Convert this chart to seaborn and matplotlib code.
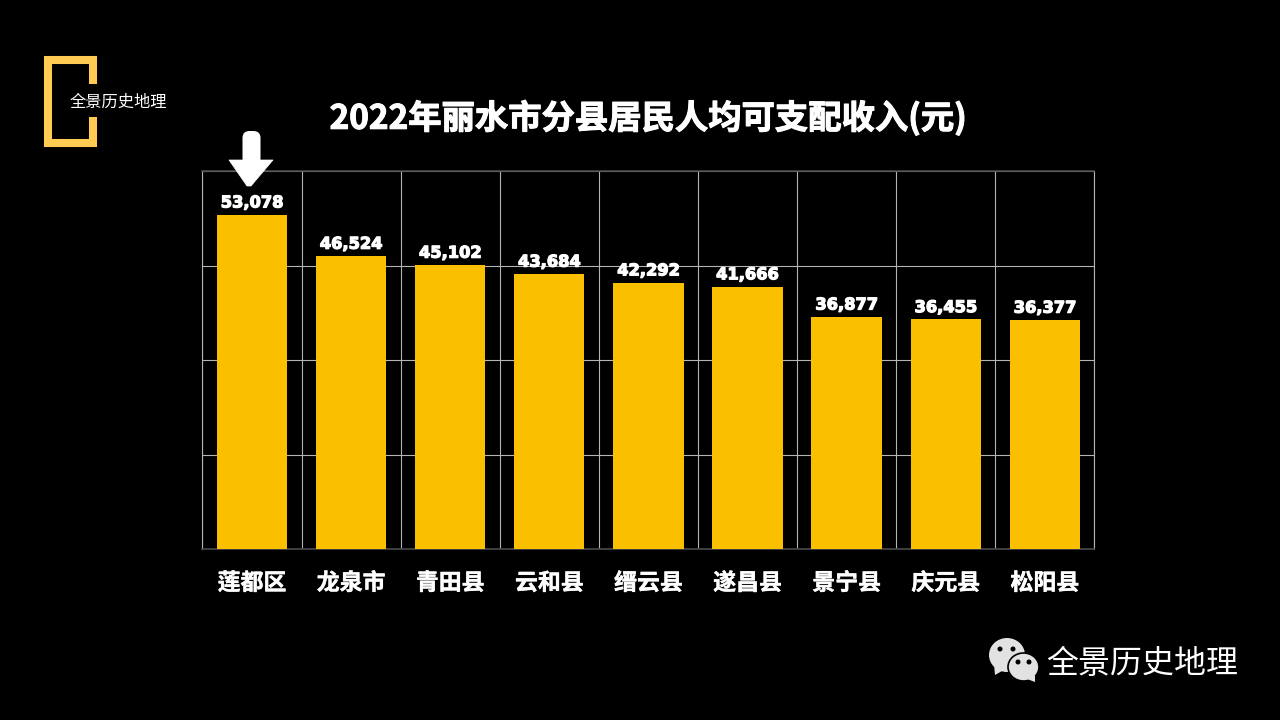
import numpy as np
import pandas as pd
import matplotlib
matplotlib.use("Agg")
import matplotlib.pyplot as plt
import matplotlib.patheffects as pe
from matplotlib.lines import Line2D
from matplotlib.patches import Ellipse, Polygon, FancyBboxPatch
from matplotlib.transforms import Affine2D
import seaborn as sns

# data
counties = ["莲都区", "龙泉市", "青田县", "云和县", "缙云县", "遂昌县", "景宁县", "庆元县", "松阳县"]
income = [53078, 46524, 45102, 43684, 42292, 41666, 36877, 36455, 36377]
y_ticks = [0, 15000, 30000, 45000, 60000]

title = "2022年丽水市分县居民人均可支配收入(元)"
brand = "全景历史地理"

BG = "#000000"
BAR = "#FAC000"
LOGO = "#FFCB52"

sns.set_theme(style="dark")
plt.rcParams["font.family"] = ["Noto Sans CJK SC", "DejaVu Sans"]

fig = plt.figure(figsize=(12.8, 7.2), dpi=100, facecolor=BG)
ax = fig.add_axes([202.4 / 1280, 1 - 549 / 720, (1094.4 - 202.4) / 1280, (549 - 171) / 720])
ax.set_facecolor(BG)

df = pd.DataFrame({"county": counties, "income": income})
sns.barplot(data=df, x="county", y="income", color=BAR, saturation=1, width=0.71,
            edgecolor="none", linewidth=0, ax=ax, zorder=3)

ax.set_xlim(-0.5, len(counties) - 0.5)
ax.set_ylim(y_ticks[0], y_ticks[-1])
ax.set_xlabel("")
ax.set_ylabel("")
ax.set_yticks(y_ticks)
ax.set_yticklabels([])
ax.set_xticks(np.arange(len(counties) + 1) - 0.5, minor=True)
ax.tick_params(axis="both", which="both", length=0)
ax.tick_params(axis="x", which="major", pad=16.5, colors="white", labelsize=16.5)
for lab in ax.get_xticklabels():
    lab.set_fontweight("bold")
    lab.set_path_effects([pe.withStroke(linewidth=0.3, foreground="white")])

ax.set_axisbelow(True)
ax.grid(True, axis="y", which="major", color="#B4B4B4", lw=0.8)
ax.grid(True, axis="x", which="minor", color="#B4B4B4", lw=0.8)
ax.grid(False, axis="x", which="major")

for side in ["top", "bottom"]:
    ax.spines[side].set_color("#4A4A4A")
    ax.spines[side].set_linewidth(1.2)
for side in ["left", "right"]:
    ax.spines[side].set_color("#B4B4B4")
    ax.spines[side].set_linewidth(0.8)

# value labels
labels = ax.bar_label(ax.containers[0], labels=[f"{v:,}" for v in income], padding=3,
                      color="white", fontsize=11.7, fontweight="bold", family="DejaVu Sans", zorder=5)
for t in labels:
    t.set_path_effects([pe.withStroke(linewidth=0.9, foreground="white")])

# decorations are placed in picture pixels
px = Affine2D().scale(1 / 1280, -1 / 720).translate(0, 1) + fig.transFigure

title_txt = fig.text(648.5, 118, title, transform=px, color="white", fontsize=24, fontweight="bold",
                     ha="center", va="center")
title_txt.set_path_effects([pe.withStroke(linewidth=0.8, foreground="white")])

# logo bracket
fig.add_artist(Line2D([93, 93, 48, 48, 93, 93], [84, 60, 60, 143, 143, 117], transform=px,
                      color=LOGO, lw=5.8, solid_joinstyle="miter", solid_capstyle="butt"))
fig.text(118, 102, brand, transform=px, color="white", fontsize=11.7, ha="center", va="center")

# arrow above first bar
fig.add_artist(FancyBboxPatch((242.5, 131), 18, 35, boxstyle="round,pad=0,rounding_size=7",
                              transform=px, fc="white", ec="none", zorder=6))
fig.add_artist(Polygon([[229, 160], [273, 160], [251, 186], [247, 186]], closed=True, transform=px,
                       fc="white", ec="white", lw=0.5, joinstyle="round", zorder=6))

# wechat icon
ICON = "#E2E2E2"
fig.add_artist(Ellipse((1007, 655), 36, 34, transform=px, fc=ICON, ec="none", zorder=6))
fig.add_artist(Polygon([[994, 664], [1002, 671], [995, 675]], closed=True, transform=px, fc=ICON, ec="none", zorder=6))
fig.add_artist(Ellipse((1023.5, 667), 31, 28, transform=px, fc=ICON, ec=BG, lw=1.2, zorder=7))
fig.add_artist(Polygon([[1027, 679], [1035, 675], [1035, 682]], closed=True, transform=px, fc=ICON, ec="none", zorder=7))
for x, y, z in [(1000, 649, 8), (1013, 649, 6), (1018, 662, 8), (1029, 662, 8)]:
    fig.add_artist(Ellipse((x, y), 5, 5, transform=px, fc=BG, ec="none", zorder=z))

fig.text(1142, 663.5, brand, transform=px, color="white", fontsize=23, ha="center", va="center")

fig.savefig("out.png", dpi=100, facecolor=BG)
